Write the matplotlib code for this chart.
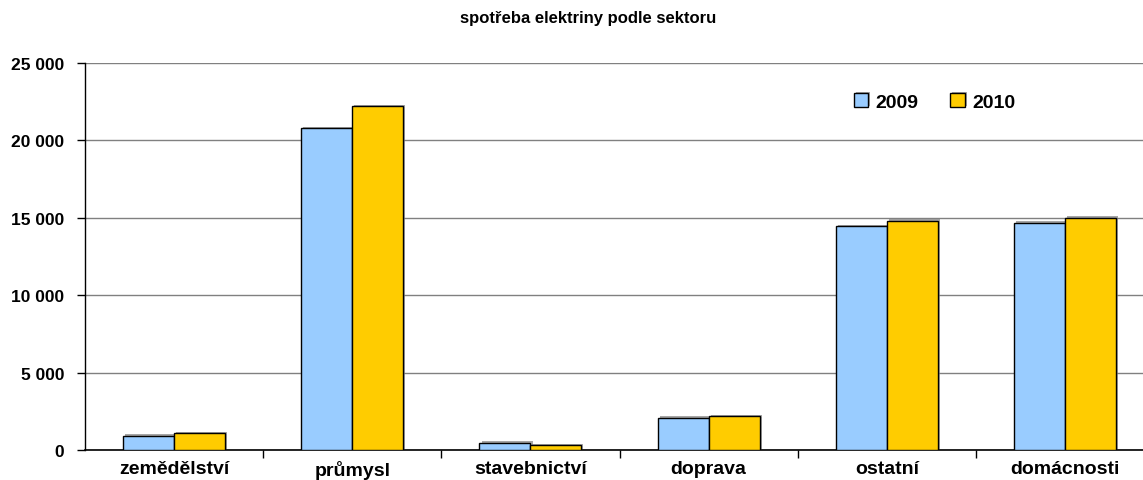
import numpy as np
import matplotlib
matplotlib.use("Agg")
import matplotlib.pyplot as plt
import matplotlib.patheffects as pe

# spotreba elektriny podle sektoru (GWh)
sektory = ["zemědělství", "průmysl", "stavebnictví", "doprava", "ostatní", "domácnosti"]
rok_2009 = [940, 20780, 490, 2090, 14460, 14680]
rok_2010 = [1090, 22170, 320, 2210, 14810, 14990]
roky = ["2009", "2010"]

plt.rcParams['font.family'] = ['Liberation Sans', 'DejaVu Sans']
plt.rcParams['font.weight'] = 'bold'

fig = plt.figure(figsize=(11.43, 4.81), dpi=100)
ax = fig.add_axes([85 / 1143, 29.7 / 481, 1069 / 1143, 387.7 / 481])

x = np.arange(len(sektory))
w = 0.286
stin = [pe.SimplePatchShadow(offset=(1.5, 1), shadow_rgbFace='#808080', alpha=0.7), pe.Normal()]
ax.bar(x - w / 2, rok_2009, w, color='#99CCFF', edgecolor='black', linewidth=1,
       label=roky[0], zorder=3, path_effects=stin)
ax.bar(x + w / 2, rok_2010, w, color='#FFCC00', edgecolor='black', linewidth=1,
       label=roky[1], zorder=3, path_effects=stin)

ax.set_xlim(-0.5, len(sektory) - 0.5)
ax.set_ylim(0, 25000)
ax.set_yticks(np.arange(0, 25001, 5000))
ax.set_yticklabels(["{:,}".format(v).replace(",", " ") for v in range(0, 25001, 5000)],
                   fontsize=12.5, fontweight='bold')
ax.yaxis.grid(True, color='#808080', linewidth=1)
ax.set_axisbelow(True)

ax.set_xticks(x)
ax.set_xticklabels(sektory, fontsize=14, fontweight='bold')
ax.tick_params(axis='x', which='major', length=0, pad=7)
ax.set_xticks(np.arange(0.5, len(sektory) - 0.5, 1), minor=True)
ax.tick_params(axis='x', which='minor', length=6, width=1, direction='out')
ax.tick_params(axis='y', length=6, width=1, direction='out', pad=9)

for s in ['top', 'right']:
    ax.spines[s].set_visible(False)
ax.spines['left'].set_linewidth(1)
ax.spines['bottom'].set_linewidth(1.2)

ax.legend(loc='upper left', bbox_to_anchor=(751 / 1069, 0.967), ncol=2, frameon=False,
          prop={'size': 14, 'weight': 'bold'}, handlelength=0.75, handleheight=0.75,
          handletextpad=0.4, columnspacing=1.6)

fig.text(588 / 1143, 1 - 18 / 481, "spotřeba elektriny podle sektoru",
         ha='center', va='center', fontsize=12, fontweight='bold')

fig.savefig("out.png", dpi=100)
